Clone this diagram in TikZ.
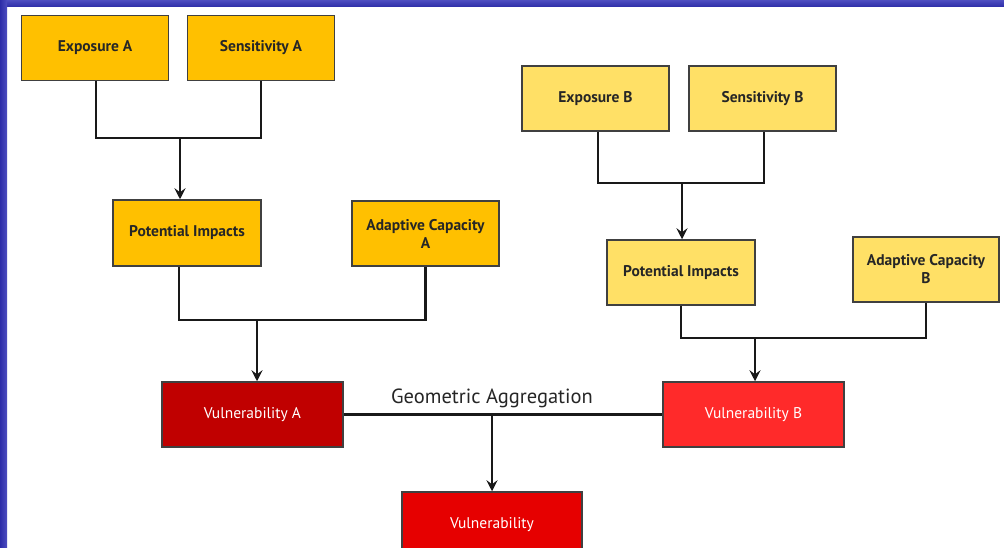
\documentclass[tikz,border=0pt]{standalone}
\usepackage{fontspec}
\setmainfont{PT Sans}
\usetikzlibrary{arrows.meta}
\definecolor{yA}{HTML}{FFC000}
\definecolor{yB}{HTML}{FFE066}
\definecolor{rA}{HTML}{C00000}
\definecolor{rB}{HTML}{FF2A2A}
\definecolor{rC}{HTML}{E60000}
\definecolor{edge}{HTML}{404040}
\definecolor{txt}{HTML}{262626}
\definecolor{bord}{HTML}{2C2CA8}
\definecolor{bordl}{HTML}{4E4EC0}
\begin{document}
\begin{tikzpicture}[x=1pt,y=-1pt,
  box/.style={draw=edge, line width=1.5pt, inner sep=0pt, align=center,
    minimum width=147pt, minimum height=65pt, text=txt,
    font=\fontsize{15.5}{18}\selectfont\bfseries},
  boxA/.style={box, fill=yA},
  boxB/.style={box, fill=yB},
  vbox/.style={box, minimum width=181pt, text=white, font=\fontsize{15.5}{18}\selectfont},
  conn/.style={draw=black!90, line width=2.2pt},
  arr/.style={conn, -{Stealth[length=11pt,width=11pt,inset=4pt]}}]
\useasboundingbox (0,0) rectangle (1004,548);
\clip (0,0) rectangle (1004,548);
\fill[white] (0,0) rectangle (1004,548);
% blue frame
\shade[top color=bordl, bottom color=bord] (0,0) rectangle (1004,7);
\shade[left color=bord, right color=bordl] (0,0) rectangle (7,548);

% A side
\node[boxA] (expA) at (95,48) {Exposure A};
\node[boxA] (senA) at (261,48) {Sensitivity A};
\node[boxA, minimum width=148pt, minimum height=66pt] (piA) at (187,233) {Potential Impacts};
\node[boxA] (acA) at (425.5,233.5) {Adaptive Capacity\\A};
% B side
\node[boxB] (expB) at (595.5,98.5) {Exposure B};
\node[boxB] (senB) at (762.5,98.5) {Sensitivity B};
\node[boxB, minimum width=148pt] (piB) at (681,272.5) {Potential Impacts};
\node[boxB, minimum width=146pt] (acB) at (926,269.5) {Adaptive Capacity\\B};
% vulnerability
\node[vbox, fill=rA] (vA) at (252.5,414.5) {Vulnerability A};
\node[vbox, fill=rB] (vB) at (753.5,414.5) {Vulnerability B};
\node[vbox, fill=rC, minimum width=180pt, minimum height=66pt] (v) at (492,525) {Vulnerability};

% connectors A
\coordinate (jA) at (180,138);
\draw[conn] (96,0 |- expA.south) |- (jA) -| (senA.south);
\draw[arr] (jA) -- (jA |- piA.north);
\coordinate (kA) at (257,320);
\draw[conn] (179,0 |- piA.south) |- (kA) -| (acA.south);
\draw[arr] (kA) -- (kA |- vA.north);
% connectors B
\coordinate (jB) at (682,183);
\draw[conn] (598,0 |- expB.south) |- (jB) -| (764,0 |- senB.south);
\draw[arr] (jB) -- (jB |- piB.north);
\coordinate (kB) at (755,338);
\draw[conn] (piB.south) |- (kB) -| (acB.south);
\draw[arr] (kB) -- (kB |- vB.north);
% aggregation
\draw[conn] (vA.east) -- (vB.west);
\coordinate (jV) at (492,414.5);
\draw[arr] (jV) -- (v.north);
\node[text=txt, font=\fontsize{20.5}{22}\selectfont, inner sep=0pt] (ga) at (492,398) {Geometric Aggregation};
\end{tikzpicture}
\end{document}
